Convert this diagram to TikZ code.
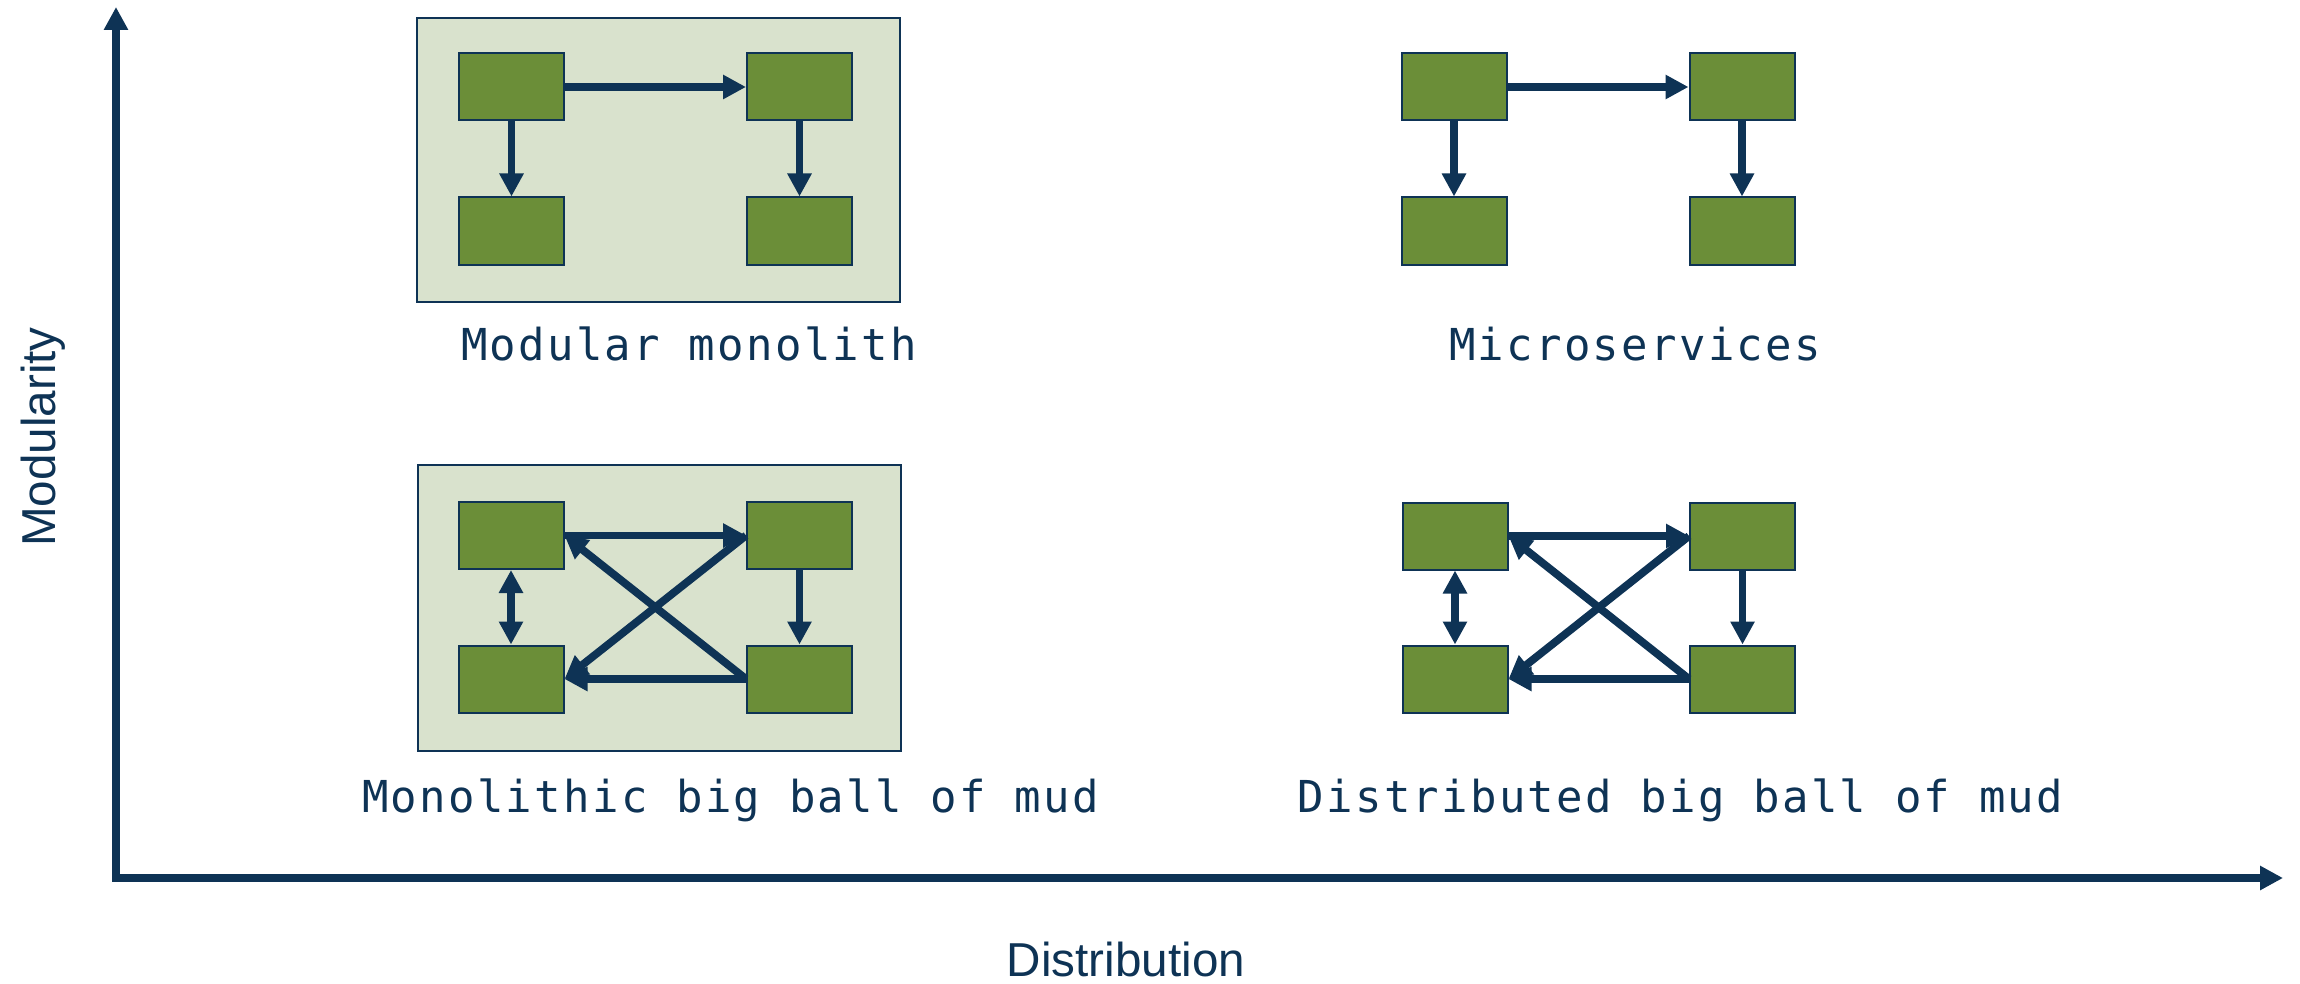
\documentclass[tikz,border=0pt]{standalone}
\usepackage{fontspec}
\setmainfont{Liberation Sans}
\newfontfamily\monolabel[LetterSpace=5.2]{DejaVu Sans Mono}
\usetikzlibrary{arrows.meta}
\definecolor{navy}{HTML}{0E3355}
\definecolor{leaf}{HTML}{6B8E38}
\definecolor{pale}{HTML}{D9E2CD}

\begin{document}
\begin{tikzpicture}[x=0.5pt,y=-0.5pt,
  module/.style={draw=navy, fill=leaf, line width=1pt, minimum width=52.5pt,
    minimum height=33.5pt, inner sep=0pt},
  frame/.style={draw=navy, fill=pale, line width=0.9pt, inner sep=0pt, minimum width=241.5pt},
  link/.style={draw=navy, line width=3.9pt, -{Triangle[length=11.5pt,width=11.5pt]}},
  dlink/.style={draw=navy, line width=3.9pt,
    {Triangle[length=11.5pt,width=11.5pt]}-{Triangle[length=11.5pt,width=11.5pt]}},
  caption/.style={text=navy, font=\monolabel\fontsize{22pt}{26pt}\selectfont,
    anchor=base, inner sep=0pt},
  axis/.style={draw=navy, line width=4.2pt, line join=miter,
    {Triangle[length=11.5pt,width=11.5pt]}-{Triangle[length=11.5pt,width=11.5pt]}},
  axislabel/.style={text=navy, font=\fontsize{23.8pt}{28pt}\selectfont,
    anchor=base, inner sep=0pt}]

\useasboundingbox (0,0) rectangle (2300,984);

% axes
\coordinate (ytip) at (116,7);
\coordinate (origin) at (116,878);
\coordinate (xtip) at (2283,878);
\draw[axis] (ytip) -- (origin) -- (xtip);
\node[axislabel, rotate=90] (ylab) at (55,437) {Modularity};
\node[axislabel] (xlab) at (1126,976) {Distribution};

% modular monolith
\node[frame, minimum height=142pt] (mmframe) at (658.5,160) {};
\node[module] (mm1) at (511.5,87) {};
\node[module] (mm2) at (799.5,87) {};
\node[module] (mm3) at (511.5,231) {};
\node[module] (mm4) at (799.5,231) {};
\draw[link] (mm1.east) -- (mm2.west);
\draw[link] (mm1.south) -- (mm3.north);
\draw[link] (mm2.south) -- (mm4.north);
\node[caption] (mmcap) at (689,360) {Modular monolith};

% microservices
\node[module] (ms1) at (1454,87) {};
\node[module] (ms2) at (1742,87) {};
\node[module] (ms3) at (1454,231) {};
\node[module] (ms4) at (1742,231) {};
\draw[link] (ms1.east) -- (ms2.west);
\draw[link] (ms1.south) -- (ms3.north);
\draw[link] (ms2.south) -- (ms4.north);
\node[caption] (mscap) at (1635,360) {Microservices};

% monolithic big ball of mud
\node[frame, minimum height=143pt] (mbframe) at (659.5,608) {};
\node[module] (mb1) at (511,535.5) {};
\node[module] (mb2) at (799.5,535.5) {};
\node[module] (mb3) at (511,679) {};
\node[module] (mb4) at (799.5,679) {};
\draw[link] (mb1.east) -- (mb2.west);
\draw[link] (mb2.south) -- (mb4.north);
\draw[link] (mb4.west) -- (mb3.east);
\draw[link] (mb2.west) -- (mb3.east);
\draw[link] (mb4.west) -- (mb1.east);
\draw[dlink] (mb1.south) -- (mb3.north);
\node[caption] (mbcap) at (730.5,812) {Monolithic big ball of mud};

% distributed big ball of mud
\node[module] (db1) at (1455,536) {};
\node[module] (db2) at (1742.5,536) {};
\node[module] (db3) at (1455,679) {};
\node[module] (db4) at (1742.5,679) {};
\draw[link] (db1.east) -- (db2.west);
\draw[link] (db2.south) -- (db4.north);
\draw[link] (db4.west) -- (db3.east);
\draw[link] (db2.west) -- (db3.east);
\draw[link] (db4.west) -- (db1.east);
\draw[dlink] (db1.south) -- (db3.north);
\node[caption] (dbcap) at (1680.5,812) {Distributed big ball of mud};

\end{tikzpicture}
\end{document}
